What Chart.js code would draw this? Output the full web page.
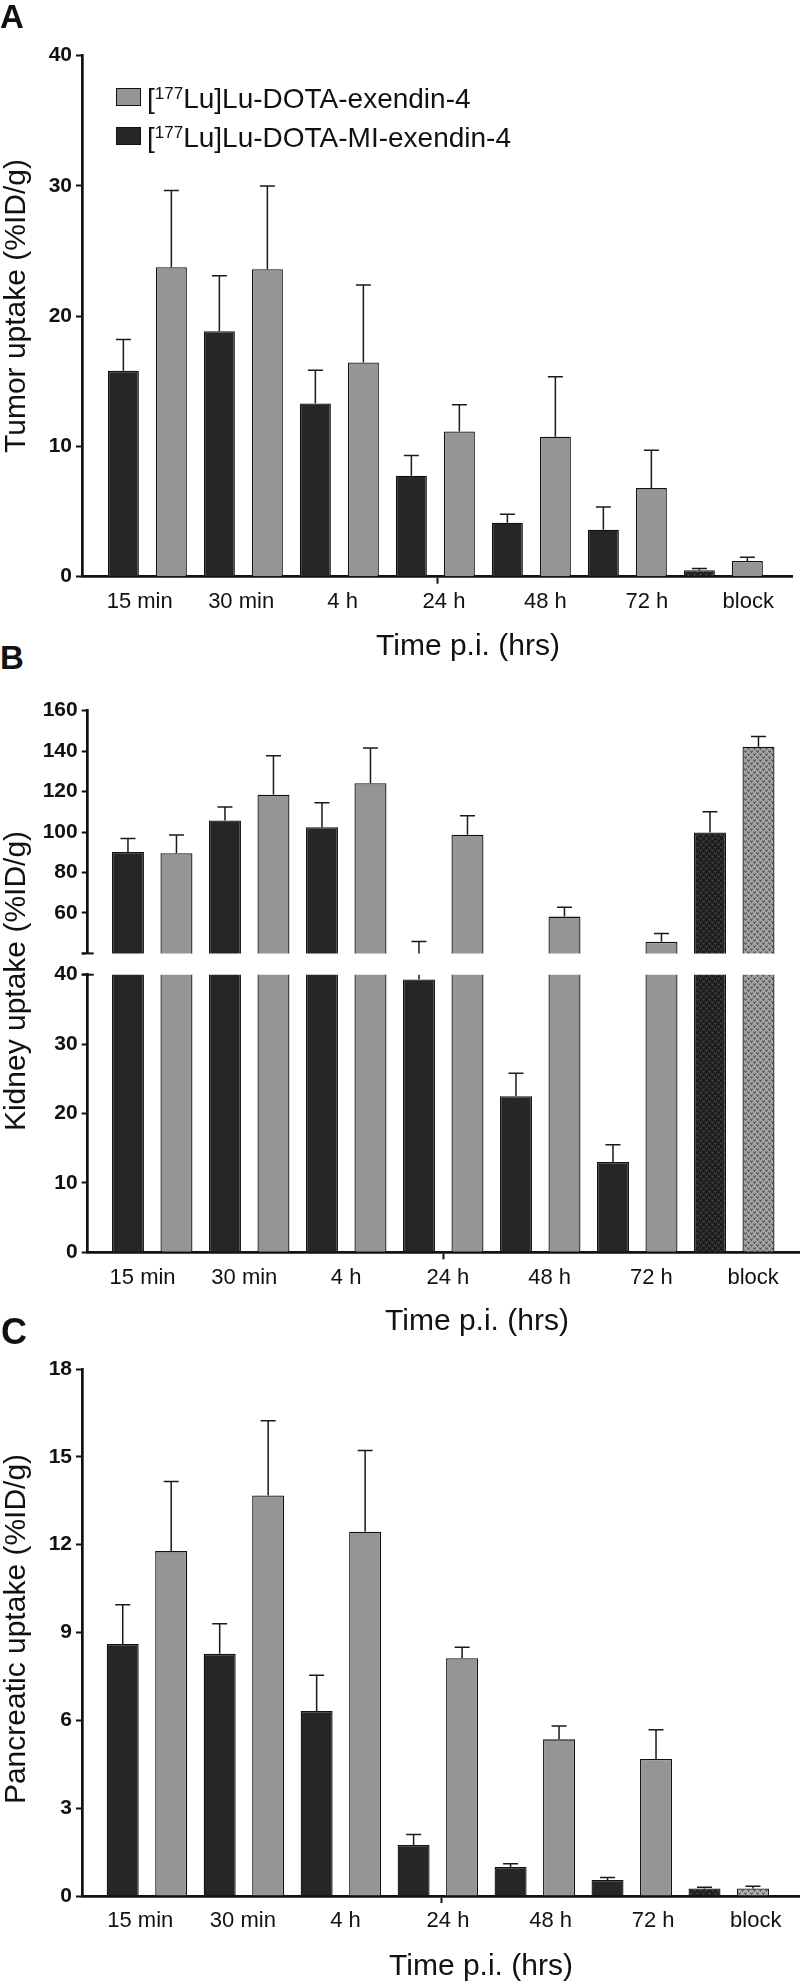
<!DOCTYPE html>
<html><head><meta charset="utf-8">
<script src="https://cdn.jsdelivr.net/npm/chart.js@4.4.1/dist/chart.umd.min.js"></script>
<style>
html,body{margin:0;padding:0;background:#fff;}
#wrap{position:relative;width:800px;height:1982px;overflow:hidden;font-family:'Liberation Sans',Arial,sans-serif;color:#111;}
canvas{position:absolute;left:0;}
.t{position:absolute;white-space:nowrap;}
.rot{position:absolute;white-space:nowrap;text-align:center;transform:rotate(-90deg);}
.box{position:absolute;box-sizing:border-box;border:1.3px solid #111;}
</style></head><body><div id="wrap">
<canvas id="cA" width="800" height="630" style="top:0px"></canvas>
<canvas id="cB1" width="800" height="280" style="top:690px"></canvas>
<canvas id="cB2" width="800" height="350" style="top:950px"></canvas>
<canvas id="cC" width="800" height="672" style="top:1310px"></canvas>
</div>
<script>
// ---------- data ----------
const categories = ['15 min', '30 min', '4 h', '24 h', '48 h', '72 h', 'block'];
const seriesEx = '[177Lu]Lu-DOTA-exendin-4';
const seriesMI = '[177Lu]Lu-DOTA-MI-exendin-4';

// Panel A: tumor uptake (%ID/g)
const tumorMI     = [15.8, 18.85, 13.3, 7.75, 4.15, 3.6, 0.5];
const tumorMIErr  = [2.4, 4.25, 2.55, 1.55, 0.65, 1.75, 0.13];
const tumorEx     = [23.75, 23.6, 16.45, 11.15, 10.75, 6.8, 1.2];
const tumorExErr  = [5.9, 6.4, 5.95, 2.05, 4.6, 2.9, 0.3];
const tumorTicks  = [0, 10, 20, 30, 40];

// Panel B: kidney uptake (%ID/g)
const kidneyMI    = [90.1, 105.7, 102.4, 39.3, 22.5, 13.0, 99.8];
const kidneyMIErr = [6.7, 6.7, 12.1, 6.6, 3.3, 2.5, 10.2];
const kidneyEx    = [89.5, 118.5, 124.1, 98.7, 58.2, 45.7, 142.2];
const kidneyExErr = [9.0, 19.2, 17.4, 9.4, 4.6, 4.1, 5.0];
const kidneyTicksUpper = [40, 60, 80, 100, 120, 140, 160];
const kidneyTicksLower = [0, 10, 20, 30, 40];

// Panel C: pancreatic uptake (%ID/g)
const pancMI      = [8.61, 8.27, 6.32, 1.74, 0.99, 0.55, 0.26];
const pancMIErr   = [1.34, 1.03, 1.22, 0.36, 0.11, 0.08, 0.04];
const pancEx      = [11.78, 13.68, 12.44, 8.12, 5.35, 4.68, 0.26];
const pancExErr   = [2.38, 2.55, 2.78, 0.38, 0.46, 1.0, 0.07];
const pancTicks   = [0, 3, 6, 9, 12, 15, 18];

// ---------- styles ----------
const DARK = '#262626', GRAY = '#959595', INK = '#111';
Chart.defaults.font.family = "'Liberation Sans', Arial, sans-serif";
Chart.defaults.color = INK;

function makePattern(bg, fg) {
  const c = document.createElement('canvas'); c.width = 6; c.height = 6;
  const g = c.getContext('2d');
  g.fillStyle = bg; g.fillRect(0, 0, 6, 6);
  g.strokeStyle = fg; g.lineWidth = 1;
  g.beginPath();
  g.moveTo(0.5, 0.5); g.lineTo(1.5, 2.5); g.lineTo(2.5, 0.5);
  g.moveTo(3.5, 3.5); g.lineTo(4.5, 5.5); g.lineTo(5.5, 3.5);
  g.stroke();
  return g.createPattern(c, 'repeat');
}
const darkPat = makePattern('#1e1e1e', '#4a4a4a');
const grayPat = makePattern('#a2a2a2', '#3a3a3a');
const grayPatC = makePattern('#b0b0b0', '#444');

const errorBars = {
  id: 'errorBars',
  afterDatasetsDraw(chart) {
    const { ctx, chartArea: a } = chart;
    ctx.save();
    ctx.beginPath(); ctx.rect(a.left, a.top, a.right - a.left, a.bottom - a.top); ctx.clip();
    ctx.strokeStyle = '#1a1a1a'; ctx.lineWidth = 1.5;
    chart.data.datasets.forEach((ds, di) => {
      const meta = chart.getDatasetMeta(di);
      const ys = chart.scales[meta.yAxisID];
      meta.data.forEach((bar, j) => {
        const v = ds.data[j].y, e = ds.errors[j];
        const yb = ys.getPixelForValue(v), yt = ys.getPixelForValue(v + e);
        ctx.beginPath();
        ctx.moveTo(bar.x, yb); ctx.lineTo(bar.x, yt);
        ctx.moveTo(bar.x - 7.5, yt); ctx.lineTo(bar.x + 7.5, yt);
        ctx.stroke();
      });
    });
    ctx.restore();
  }
};
function breakCap(where) {
  return { id: 'breakCap', afterDraw(chart) {
    const { ctx, chartArea: a } = chart;
    const y = where === 'bottom' ? a.bottom : a.top;
    ctx.save(); ctx.strokeStyle = INK; ctx.lineWidth = 2;
    ctx.beginPath(); ctx.moveTo(a.left - 6, y); ctx.lineTo(a.left + 6, y); ctx.stroke();
    ctx.restore();
  } };
}

function makeDatasets(mi, miErr, ex, exErr, miColors, exColors, barPct) {
  const common = { xAxisID: 'x', yAxisID: 'y', borderColor: INK, borderWidth: 1.3,
    categoryPercentage: 1, barPercentage: barPct, clip: 0 };
  return [
    Object.assign({ label: seriesMI, data: mi.map((v, i) => ({ x: i, y: v })), errors: miErr, backgroundColor: miColors }, common),
    Object.assign({ label: seriesEx, data: ex.map((v, i) => ({ x: i, y: v })), errors: exErr, backgroundColor: exColors }, common)
  ];
}

function makeChart(id, cfg) {
  const scales = {
    x: { type: 'linear', axis: 'x', display: false, offset: false, grid: { offset: false },
         min: cfg.xMin, max: cfg.xMax,
         afterBuildTicks: s => { s.ticks = categories.map((c, i) => ({ value: i })); } },
    y: { type: 'linear', axis: 'y', position: 'left', min: cfg.ticks[0], max: cfg.ticks[cfg.ticks.length - 1],
         afterBuildTicks: s => { s.ticks = cfg.ticks.map(v => ({ value: v })); },
         afterFit: s => { s.width = cfg.yWidth; },
         grid: { drawOnChartArea: false, tickLength: 6, tickWidth: 2, tickColor: INK },
         border: { color: INK, width: 2.7 },
         ticks: { color: INK, padding: 4, font: { size: 21, weight: 'bold' },
                  callback: v => (cfg.hideLabels || []).includes(v) ? '' : String(v) } }
  };
  if (cfg.showX) {
    scales.xl = { type: 'category', axis: 'x', position: 'bottom', labels: categories, offset: true,
      grid: { offset: false, drawOnChartArea: false, tickLength: 7, tickWidth: 2,
              tickColor: c => c.index === 3 ? INK : 'rgba(0,0,0,0)' },
      border: { color: INK, width: 2.7 },
      ticks: { color: INK, padding: 5, labelOffset: cfg.labelOffset, maxRotation: 0, autoSkip: false, font: { size: 22 } },
      afterFit: s => { s.height = cfg.xHeight; } };
  }
  return new Chart(document.getElementById(id), {
    type: 'bar',
    data: { labels: categories, datasets: cfg.datasets },
    options: {
      responsive: false, animation: false, devicePixelRatio: 1,
      layout: { padding: { left: 0, top: cfg.padTop, right: cfg.padRight, bottom: cfg.padBottom || 0 } },
      plugins: { legend: { display: false }, tooltip: { enabled: false }, title: { display: false } },
      scales
    },
    plugins: [errorBars].concat(cfg.extra || [])
  });
}

const withLast = (base, last) => categories.map((c, i) => i === 6 ? last : base);

makeChart('cA', {
  datasets: makeDatasets(tumorMI, tumorMIErr, tumorEx, tumorExErr, withLast(DARK, darkPat), withLast(GRAY, GRAY), 0.646),
  ticks: tumorTicks, yWidth: 82, padTop: 55.6, padRight: 8, xMin: -0.681, xMax: 6.715,
  showX: true, xHeight: 53.3, labelOffset: 7
});
makeChart('cB1', {
  datasets: makeDatasets(kidneyMI, kidneyMIErr, kidneyEx, kidneyExErr, withLast(DARK, darkPat), withLast(GRAY, grayPat), 0.66),
  ticks: kidneyTicksUpper, hideLabels: [40], yWidth: 87.7, padTop: 20.7, padRight: 0, padBottom: 13,
  xMin: -0.665, xMax: 6.678, showX: false, extra: [breakCap('bottom')]
});
makeChart('cB2', {
  datasets: makeDatasets(kidneyMI, kidneyMIErr, kidneyEx, kidneyExErr, withLast(DARK, darkPat), withLast(GRAY, grayPat), 0.66),
  ticks: kidneyTicksLower, yWidth: 87.7, padTop: 24.7, padRight: 0,
  xMin: -0.665, xMax: 6.678, showX: true, xHeight: 47.7, labelOffset: 4, extra: [breakCap('top')]
});
makeChart('cC', {
  datasets: makeDatasets(pancMI, pancMIErr, pancEx, pancExErr, withLast(DARK, darkPat), withLast(GRAY, grayPatC), 0.66),
  ticks: pancTicks, yWidth: 82, padTop: 59, padRight: 0,
  xMin: -0.670, xMax: 6.735, showX: true, xHeight: 86, labelOffset: 7
});

// ---------- text ----------
const wrap = document.getElementById('wrap');
function addDiv(cls, html, css) {
  const d = document.createElement('div'); d.className = cls; d.innerHTML = html;
  Object.assign(d.style, css); wrap.appendChild(d); return d;
}
// panel letters
addDiv('t', 'A', { left: '0px', top: '0px', font: "bold 33px/33px 'Liberation Sans', Arial" });
addDiv('t', 'B', { left: '0px', top: '640.5px', font: "bold 33px/33px 'Liberation Sans', Arial" });
addDiv('t', 'C', { left: '1px', top: '1313.5px', font: "bold 36px/36px 'Liberation Sans', Arial" });
// x titles (30px: baseline = top + 25.3)
[[468, 629.7], [477, 1304.7], [481, 1949.7]].forEach(([cx, top]) => {
  addDiv('t', 'Time p.i. (hrs)', { left: (cx - 200) + 'px', top: top + 'px', width: '400px', textAlign: 'center',
    font: "30px/30px 'Liberation Sans', Arial" });
});
// y titles
[['Tumor uptake (%ID/g)', 306], ['Kidney uptake (%ID/g)', 981], ['Pancreatic uptake (%ID/g)', 1629]].forEach(([txt, cy]) => {
  addDiv('rot', txt, { left: (14.6 - 250) + 'px', top: (cy - 17) + 'px', width: '500px', height: '34px',
    font: "30px/34px 'Liberation Sans', Arial" });
});
// legend
const sup = s => s.replace(/\[(\d+)/, '[<span style="font-size:17px;position:relative;top:-9px">$1</span>');
addDiv('box', '', { left: '116px', top: '87.7px', width: '25px', height: '18.3px', background: GRAY });
addDiv('box', '', { left: '116px', top: '126.7px', width: '25px', height: '18.3px', background: DARK });
addDiv('t', sup(seriesEx), { left: '147px', top: '84.8px', font: "28px/28px 'Liberation Sans', Arial" });
addDiv('t', sup(seriesMI), { left: '147px', top: '123.8px', font: "28px/28px 'Liberation Sans', Arial" });
</script>
</body></html>
